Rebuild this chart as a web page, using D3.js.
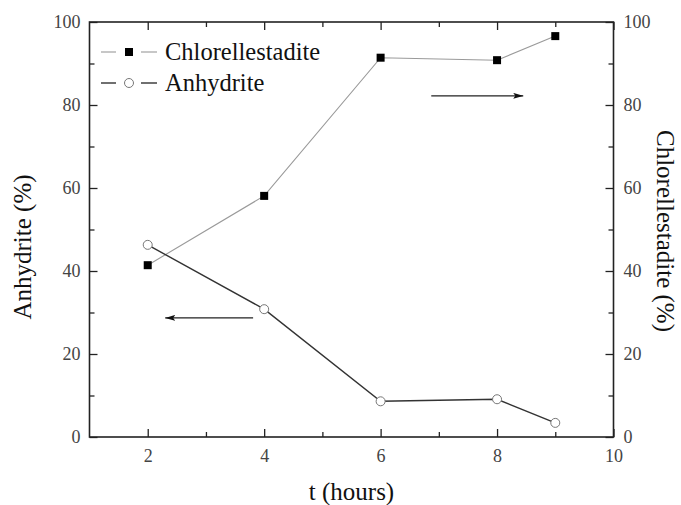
<!DOCTYPE html>
<html>
<head>
<meta charset="utf-8">
<script src="https://cdn.jsdelivr.net/npm/d3@7"></script>
<style>
  body { margin: 0; background: #fff; }
  svg { display: block; }
  text { font-family: "Liberation Serif", "Times New Roman", serif; }
</style>
</head>
<body>
<svg id="chart" width="681" height="505"></svg>
<script>
// Reaction time (hours)
const hours = [2, 4, 6, 8, 9];
// Phase contents (%)
const chlorellestadite = [41.4, 58.1, 91.4, 90.8, 96.6];
const anhydrite = [46.3, 30.8, 8.6, 9.1, 3.4];

// Axis ticks
const xMajorTicks = [2, 4, 6, 8, 10];
const xMinorTicks = [3, 5, 7, 9];
const yMajorTicks = [0, 20, 40, 60, 80, 100];
const yMinorTicks = [10, 30, 50, 70, 90];

// Arrows pointing each series to its axis: [t start, t end, value]
const rightArrow = [6.87, 8.45, 82.2];
const leftArrow = [3.81, 2.30, 28.7];

const svg = d3.select("#chart");
const plotLeft = 89.5, plotRight = 613.5, plotTop = 22, plotBottom = 437;

const x = d3.scaleLinear().domain([1, 10]).range([plotLeft, plotRight]);
const y = d3.scaleLinear().domain([0, 100]).range([plotBottom, plotTop]);

const tickColor = "#222";
const labelColor = "#444";

function styleAxis(g, fontSize) {
  g.select(".domain").remove();
  g.selectAll(".tick line").attr("stroke", tickColor).attr("stroke-width", 1.3);
  g.selectAll(".tick text")
    .attr("fill", labelColor)
    .style("font-size", fontSize + "px")
    .style("font-family", "'Liberation Serif', serif");
}

// Bottom axis
svg.append("g").attr("transform", `translate(0,${plotBottom})`)
  .call(d3.axisBottom(x).tickValues(xMajorTicks).tickSizeInner(-8).tickSizeOuter(0).tickPadding(12).tickFormat(d3.format("d")))
  .call(g => styleAxis(g, 18));
svg.append("g").attr("transform", `translate(0,${plotBottom})`)
  .call(d3.axisBottom(x).tickValues(xMinorTicks).tickSizeInner(-5).tickSizeOuter(0).tickFormat(""))
  .call(g => styleAxis(g, 18));

// Top axis
svg.append("g").attr("transform", `translate(0,${plotTop})`)
  .call(d3.axisTop(x).tickValues(xMajorTicks).tickSizeInner(-8).tickSizeOuter(0).tickFormat(""))
  .call(g => styleAxis(g, 18));
svg.append("g").attr("transform", `translate(0,${plotTop})`)
  .call(d3.axisTop(x).tickValues(xMinorTicks).tickSizeInner(-5).tickSizeOuter(0).tickFormat(""))
  .call(g => styleAxis(g, 18));

// Left axis (Anhydrite)
svg.append("g").attr("transform", `translate(${plotLeft},0)`)
  .call(d3.axisLeft(y).tickValues(yMajorTicks).tickSizeInner(-8).tickSizeOuter(0).tickPadding(9))
  .call(g => styleAxis(g, 18));
svg.append("g").attr("transform", `translate(${plotLeft},0)`)
  .call(d3.axisLeft(y).tickValues(yMinorTicks).tickSizeInner(-5).tickSizeOuter(0).tickFormat(""))
  .call(g => styleAxis(g, 18));

// Right axis (Chlorellestadite)
svg.append("g").attr("transform", `translate(${plotRight},0)`)
  .call(d3.axisRight(y).tickValues(yMajorTicks).tickSizeInner(-8).tickSizeOuter(0).tickPadding(10))
  .call(g => styleAxis(g, 18));
svg.append("g").attr("transform", `translate(${plotRight},0)`)
  .call(d3.axisRight(y).tickValues(yMinorTicks).tickSizeInner(-5).tickSizeOuter(0).tickFormat(""))
  .call(g => styleAxis(g, 18));

// Frame
svg.append("rect")
  .attr("x", plotLeft).attr("y", plotTop)
  .attr("width", plotRight - plotLeft).attr("height", plotBottom - plotTop)
  .attr("fill", "none").attr("stroke", tickColor).attr("stroke-width", 1.6);

// Series lines
const line = d3.line().x(d => x(d[0])).y(d => y(d[1]));
svg.append("path")
  .datum(hours.map((h, i) => [h, chlorellestadite[i]]))
  .attr("d", line).attr("fill", "none")
  .attr("stroke", "#9a9a9a").attr("stroke-width", 1.1);
svg.append("path")
  .datum(hours.map((h, i) => [h, anhydrite[i]]))
  .attr("d", line).attr("fill", "none")
  .attr("stroke", "#333").attr("stroke-width", 1.4);

// Markers
const sq = 8;
svg.append("g").selectAll("rect")
  .data(hours.map((h, i) => [h, chlorellestadite[i]]))
  .join("rect")
  .attr("x", d => x(d[0]) - sq / 2).attr("y", d => y(d[1]) - sq / 2)
  .attr("width", sq).attr("height", sq).attr("fill", "#000");
svg.append("g").selectAll("circle")
  .data(hours.map((h, i) => [h, anhydrite[i]]))
  .join("circle")
  .attr("cx", d => x(d[0])).attr("cy", d => y(d[1])).attr("r", 4.5)
  .attr("fill", "#fff").attr("stroke", "#777").attr("stroke-width", 1);

// Arrows
const defs = svg.append("defs");
defs.append("marker")
  .attr("id", "head").attr("viewBox", "0 0 10 6")
  .attr("refX", 10).attr("refY", 3)
  .attr("markerWidth", 10).attr("markerHeight", 6)
  .attr("markerUnits", "userSpaceOnUse").attr("orient", "auto")
  .append("path").attr("d", "M0,0 L10,3 L0,6 L2,3 Z").attr("fill", "#111");
[rightArrow, leftArrow].forEach(a => {
  svg.append("line")
    .attr("x1", x(a[0])).attr("x2", x(a[1]))
    .attr("y1", y(a[2])).attr("y2", y(a[2]))
    .attr("stroke", "#222").attr("stroke-width", 1.2)
    .attr("marker-end", "url(#head)");
});

// Legend
const legend = svg.append("g");
const legendRows = [
  { name: "Chlorellestadite", color: "#9a9a9a", width: 1.1, shape: "square", y: 52 },
  { name: "Anhydrite", color: "#333", width: 1.4, shape: "circle", y: 83 }
];
legendRows.forEach(r => {
  legend.append("line").attr("x1", 101).attr("x2", 116).attr("y1", r.y).attr("y2", r.y)
    .attr("stroke", r.color).attr("stroke-width", r.width);
  legend.append("line").attr("x1", 141).attr("x2", 157).attr("y1", r.y).attr("y2", r.y)
    .attr("stroke", r.color).attr("stroke-width", r.width);
  if (r.shape === "square") {
    legend.append("rect").attr("x", 129 - sq / 2).attr("y", r.y - sq / 2)
      .attr("width", sq).attr("height", sq).attr("fill", "#000");
  } else {
    legend.append("circle").attr("cx", 129).attr("cy", r.y).attr("r", 4.5)
      .attr("fill", "#fff").attr("stroke", "#777");
  }
  legend.append("text").attr("x", 165).attr("y", r.y + 8)
    .style("font-size", "24.5px").attr("fill", "#111").text(r.name);
});

// Axis titles
svg.append("text")
  .attr("x", (plotLeft + plotRight) / 2).attr("y", 500)
  .attr("text-anchor", "middle").style("font-size", "25px").attr("fill", "#111")
  .text("t (hours)");
svg.append("text")
  .attr("transform", `translate(31,247) rotate(-90)`)
  .attr("text-anchor", "middle").style("font-size", "25px").attr("fill", "#111")
  .text("Anhydrite (%)");
svg.append("text")
  .attr("transform", `translate(657,231) rotate(90)`)
  .attr("text-anchor", "middle").style("font-size", "25px").attr("fill", "#111")
  .text("Chlorellestadite (%)");
</script>
</body>
</html>
